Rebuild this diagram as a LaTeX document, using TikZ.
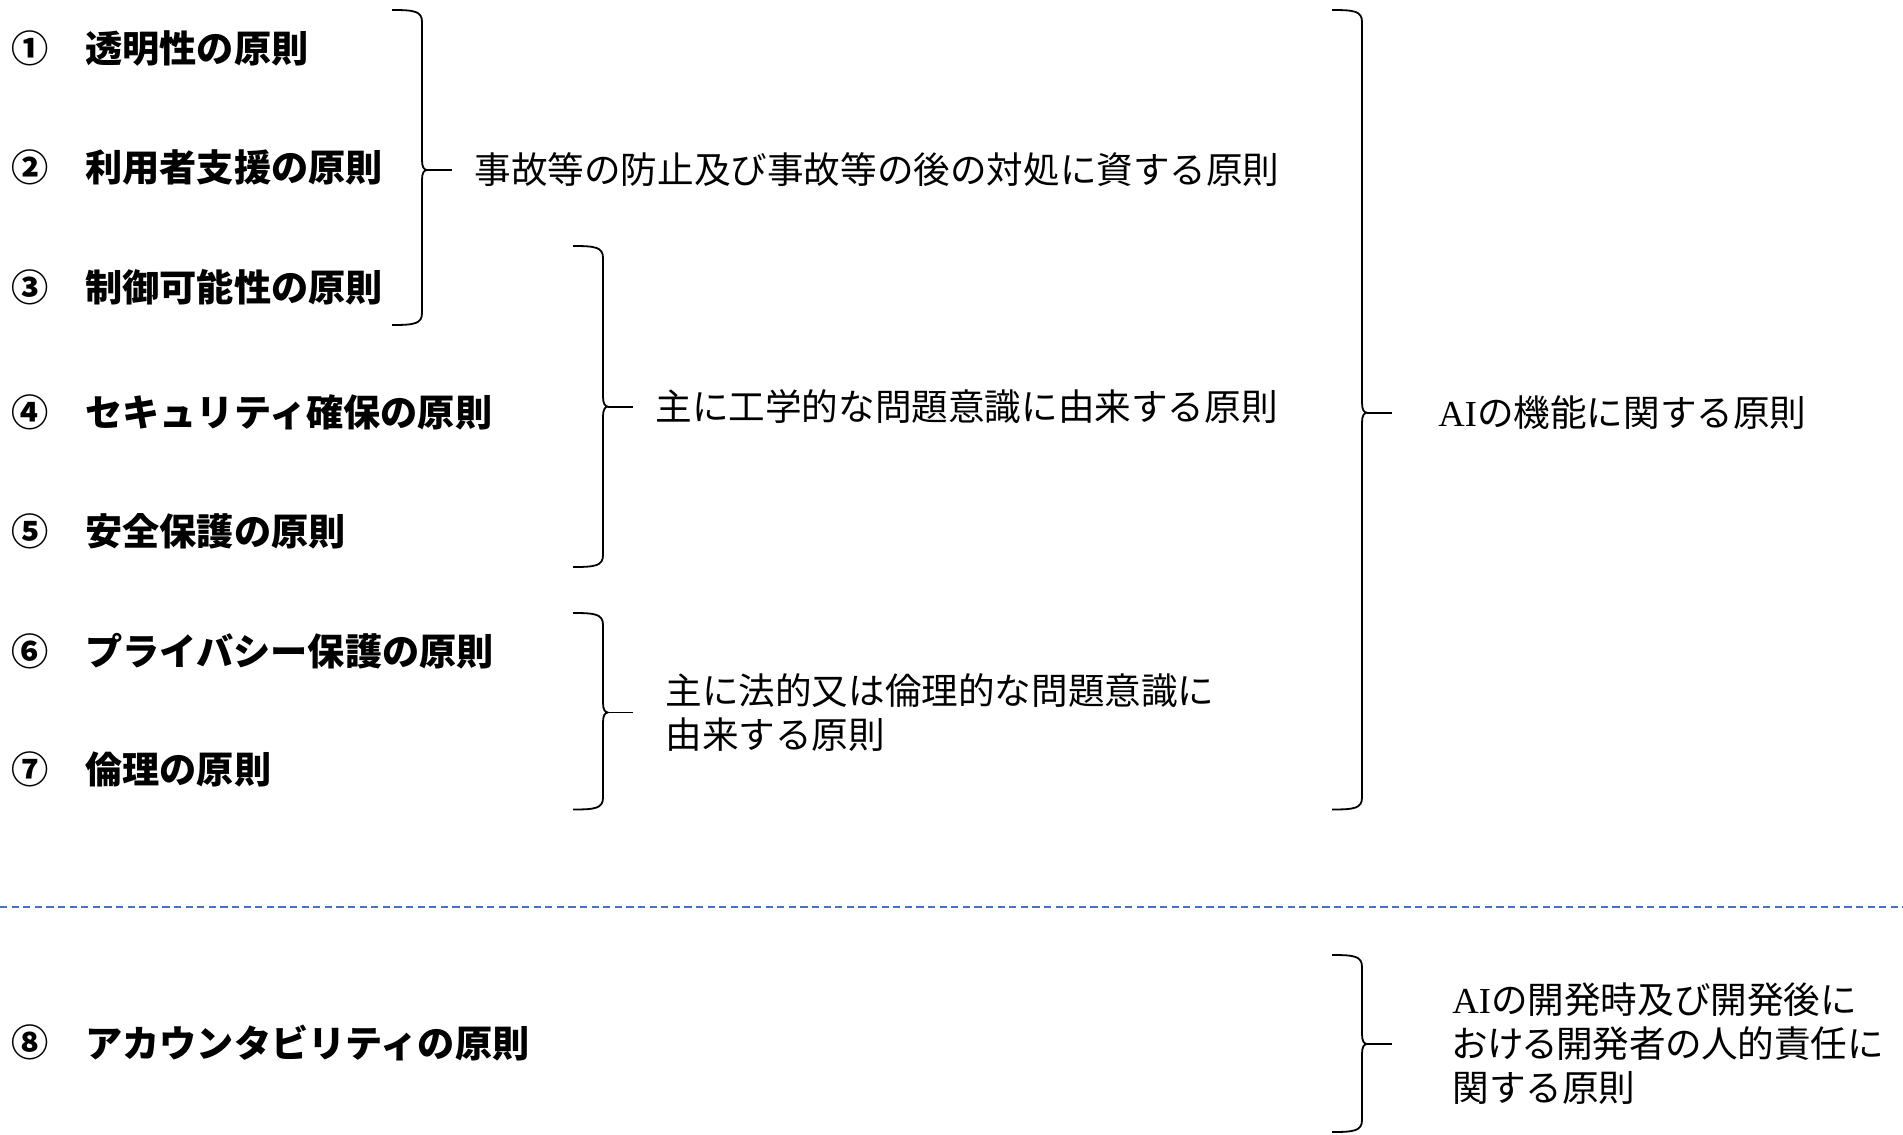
\documentclass[tikz,border=0pt]{standalone}
\usepackage{fontspec}
\setmainfont{Liberation Serif}
\newfontfamily\jpfont{Noto Sans CJK JP}
\newfontfamily\jppfont{Noto Sans CJK JP}[RawFeature=+palt]
\usetikzlibrary{calc}
\usetikzlibrary{positioning}
\definecolor{sepblue}{RGB}{68,114,196}
\tikzset{%
    principle/.style={anchor=west,inner sep=0pt,font=\jpfont\bfseries\fontsize{18.6}{22}\selectfont},
    circnum/.style={inner sep=0pt,font=\jpfont\bfseries\fontsize{18.6}{22}\selectfont},
    group/.style={anchor=west,inner sep=0pt,align=left,font=\jpfont\fontsize{18.3}{22}\selectfont},
    brace line/.style={line width=0.9pt,line join=round},
    separator/.style={dash pattern=on 3.6pt off 2.2pt,line width=1pt,color=sepblue},
}
\newcommand{\groupbrace}[5]{%
    \draw[brace line] (#2-30,#3) .. controls (#2-8,#3) and (#2,#3+1) .. (#2,#3+12)
        -- (#2,#4-10) .. controls (#2,#4-3) and (#2+2,#4) .. (#2+5,#4) coordinate (#1)
        .. controls (#2+2,#4) and (#2,#4+3) .. (#2,#4+10)
        -- (#2,#5-12) .. controls (#2,#5-1) and (#2-8,#5) .. (#2-30,#5);
    \draw[brace line] (#1) -- ++(25,0) coordinate (#1end);
}

\begin{document}
\begin{tikzpicture}[x=0.5pt,y=-0.5pt]
        \useasboundingbox (0,0) rectangle (1903,1135);

        \foreach \i/\num/\yy/\txt in {1/①/48.5/透明性の原則, 2/②/167.5/利用者支援の原則,
                3/③/287.6/制御可能性の原則, 4/④/412.7/セキュリティ確保の原則,
                5/⑤/531.6/安全保護の原則, 6/⑥/651.7/プライバシー保護の原則,
                7/⑦/769.5/倫理の原則, 8/⑧/1042.6/アカウンタビリティの原則} {
            \node[circnum] (num\i) at (30,\yy) {\num};
            \node[principle] (prin\i) at (85,\yy) {\txt};
        }

        \groupbrace{accident}{422}{10}{170}{325}
        \groupbrace{engineering}{603}{246}{406.6}{567}
        \groupbrace{legal}{603}{613}{712.5}{809.5}
        \groupbrace{function}{1362}{10}{412.7}{809.5}
        \groupbrace{developer}{1362}{955}{1044}{1132}

        \node[group,right=11pt of accidentend] (accidenttxt) {事故等の防止及び事故等の後の対処に資する原則};
        \node[group,right=11pt of engineeringend] (engineeringtxt) {主に工学的な問題意識に由来する原則};
        \node[group,right=16pt of legalend] (legaltxt) {主に法的又は倫理的な問題意識に\\由来する原則};
        \node[group,right=23pt of functionend] (functiontxt) {{\rmfamily AI}の機能に関する原則};
        \node[group,right=30pt of developerend] (developertxt) {{\rmfamily AI}の開発時及び開発後に\\{\jppfont おける}開発者{\jppfont の}人的責任{\jppfont に}\\関する原則};

        \draw[separator] (0,906.6) coordinate (sepL) -- (1903,906.6) coordinate (sepR);
    \end{tikzpicture}
\end{document}
